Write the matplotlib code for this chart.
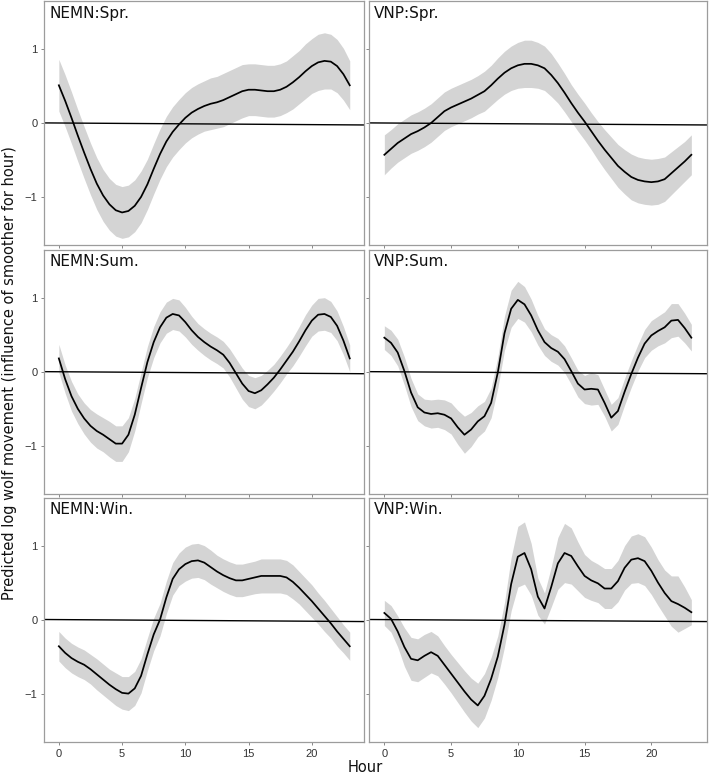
import numpy as np
import matplotlib
matplotlib.use("Agg")
import matplotlib.pyplot as plt

# ---------------- data ----------------
hours = np.arange(0, 23.5, 0.5)          # half-hour grid 0 .. 23
x_ticks = [0, 5, 10, 15, 20]
y_ticks = [-1, 0, 1]
y_tick_labels = ["\u22121", "0", "1"]

ref_intercept = 0.0                      # near-zero reference line
ref_slope = -0.0011

labels = ["NEMN:Spr.", "VNP:Spr.", "NEMN:Sum.", "VNP:Sum.", "NEMN:Win.", "VNP:Win."]

nemn_spr = [0.51, 0.30, 0.07, -0.17, -0.40, -0.62, -0.82, -0.98, -1.10, -1.18, -1.21, -1.19,
            -1.12, -1.00, -0.83, -0.62, -0.42, -0.25, -0.12, -0.02, 0.07, 0.14, 0.19, 0.23,
            0.26, 0.28, 0.31, 0.35, 0.39, 0.43, 0.45, 0.45, 0.44, 0.43, 0.43, 0.45, 0.49,
            0.55, 0.62, 0.70, 0.77, 0.82, 0.84, 0.83, 0.77, 0.66, 0.51]
nemn_spr_se = [0.35, 0.35, 0.35, 0.35, 0.35, 0.35, 0.35, 0.35, 0.35, 0.35, 0.35, 0.35,
               0.35, 0.35, 0.34, 0.34, 0.34, 0.34, 0.34, 0.34, 0.34, 0.34, 0.34, 0.34,
               0.35, 0.35, 0.36, 0.36, 0.36, 0.36, 0.35, 0.35, 0.35, 0.35, 0.35, 0.35, 0.35,
               0.36, 0.36, 0.37, 0.37, 0.38, 0.38, 0.37, 0.36, 0.35, 0.33]

vnp_spr = [-0.43, -0.35, -0.27, -0.21, -0.15, -0.11, -0.06, 0.00, 0.08, 0.16, 0.21, 0.25,
           0.29, 0.33, 0.38, 0.43, 0.51, 0.60, 0.68, 0.74, 0.78, 0.80, 0.80, 0.78,
           0.74, 0.65, 0.54, 0.41, 0.27, 0.14, 0.02, -0.11, -0.24, -0.36, -0.47, -0.58, -0.66,
           -0.73, -0.77, -0.79, -0.80, -0.79, -0.76, -0.68, -0.60, -0.52, -0.43]
vnp_spr_se = [0.27, 0.26, 0.26, 0.26, 0.26, 0.26, 0.26, 0.26, 0.26, 0.26, 0.26, 0.26,
              0.26, 0.26, 0.26, 0.27, 0.27, 0.28, 0.29, 0.30, 0.31, 0.32, 0.32, 0.31,
              0.30, 0.29, 0.27, 0.26, 0.25, 0.25, 0.25, 0.25, 0.26, 0.27, 0.28, 0.29, 0.30,
              0.31, 0.31, 0.31, 0.31, 0.31, 0.30, 0.29, 0.28, 0.27, 0.27]

nemn_sum = [0.18, -0.10, -0.33, -0.50, -0.63, -0.73, -0.80, -0.85, -0.91, -0.97, -0.97, -0.85,
            -0.58, -0.22, 0.13, 0.40, 0.60, 0.73, 0.78, 0.76, 0.67, 0.56, 0.47, 0.40,
            0.34, 0.29, 0.23, 0.12, -0.02, -0.16, -0.26, -0.29, -0.25, -0.17, -0.08, 0.03, 0.15,
            0.27, 0.41, 0.56, 0.69, 0.77, 0.78, 0.74, 0.62, 0.42, 0.18]
nemn_sum_se = [0.19, 0.19, 0.20, 0.20, 0.21, 0.22, 0.23, 0.23, 0.24, 0.24, 0.24, 0.23,
               0.22, 0.21, 0.21, 0.21, 0.21, 0.21, 0.21, 0.21, 0.20, 0.19, 0.18, 0.18,
               0.18, 0.18, 0.18, 0.19, 0.20, 0.21, 0.21, 0.21, 0.20, 0.19, 0.18, 0.18, 0.18,
               0.19, 0.20, 0.21, 0.21, 0.22, 0.22, 0.21, 0.20, 0.19, 0.18]

vnp_sum = [0.46, 0.39, 0.26, 0.01, -0.28, -0.48, -0.55, -0.57, -0.56, -0.58, -0.63, -0.75,
           -0.85, -0.78, -0.67, -0.60, -0.42, -0.01, 0.52, 0.85, 0.97, 0.91, 0.76, 0.56,
           0.40, 0.32, 0.27, 0.17, 0.01, -0.16, -0.24, -0.23, -0.24, -0.42, -0.62, -0.53, -0.27,
           -0.03, 0.19, 0.38, 0.49, 0.55, 0.60, 0.69, 0.70, 0.59, 0.46]
vnp_sum_se = [0.16, 0.17, 0.18, 0.19, 0.19, 0.18, 0.18, 0.19, 0.19, 0.20, 0.21, 0.23,
              0.25, 0.23, 0.21, 0.20, 0.20, 0.21, 0.23, 0.25, 0.25, 0.24, 0.22, 0.20,
              0.18, 0.18, 0.18, 0.18, 0.18, 0.18, 0.19, 0.22, 0.20, 0.18, 0.18, 0.18, 0.18,
              0.18, 0.18, 0.19, 0.20, 0.20, 0.21, 0.23, 0.22, 0.20, 0.18]

nemn_win = [-0.36, -0.45, -0.52, -0.57, -0.61, -0.67, -0.74, -0.81, -0.88, -0.94, -0.99, -1.00,
            -0.93, -0.76, -0.47, -0.20, 0.00, 0.30, 0.55, 0.68, 0.75, 0.79, 0.80, 0.77,
            0.71, 0.65, 0.60, 0.56, 0.53, 0.53, 0.55, 0.57, 0.59, 0.59, 0.59, 0.59, 0.57,
            0.51, 0.43, 0.34, 0.25, 0.15, 0.05, -0.05, -0.16, -0.26, -0.36]
nemn_win_se = [0.20, 0.20, 0.20, 0.20, 0.20, 0.20, 0.21, 0.21, 0.21, 0.22, 0.22, 0.23,
               0.23, 0.23, 0.22, 0.22, 0.22, 0.22, 0.22, 0.22, 0.23, 0.23, 0.23, 0.23,
               0.23, 0.22, 0.22, 0.22, 0.22, 0.22, 0.22, 0.22, 0.23, 0.23, 0.23, 0.23, 0.23,
               0.23, 0.22, 0.22, 0.22, 0.21, 0.21, 0.20, 0.20, 0.19, 0.19]

vnp_win = [0.09, 0.01, -0.16, -0.37, -0.53, -0.55, -0.49, -0.44, -0.49, -0.61, -0.73, -0.85,
           -0.97, -1.08, -1.16, -1.03, -0.80, -0.50, -0.07, 0.48, 0.85, 0.90, 0.68, 0.31,
           0.15, 0.44, 0.76, 0.90, 0.86, 0.72, 0.59, 0.53, 0.49, 0.42, 0.42, 0.52, 0.70,
           0.81, 0.83, 0.79, 0.66, 0.50, 0.36, 0.25, 0.21, 0.16, 0.10]
vnp_win_se = [0.17, 0.18, 0.21, 0.26, 0.29, 0.29, 0.29, 0.28, 0.27, 0.26, 0.26, 0.27,
              0.28, 0.29, 0.30, 0.30, 0.29, 0.28, 0.30, 0.36, 0.41, 0.42, 0.35, 0.25,
              0.21, 0.27, 0.35, 0.40, 0.38, 0.33, 0.29, 0.27, 0.26, 0.27, 0.27, 0.28, 0.30,
              0.32, 0.33, 0.33, 0.32, 0.31, 0.31, 0.34, 0.38, 0.28, 0.17]

series = [(nemn_spr, nemn_spr_se), (vnp_spr, vnp_spr_se),
          (nemn_sum, nemn_sum_se), (vnp_sum, vnp_sum_se),
          (nemn_win, nemn_win_se), (vnp_win, vnp_win_se)]

# ---------------- layout ----------------
W, H = 709, 774
fig = plt.figure(figsize=(W / 100, H / 100), dpi=100)

col_px = [(44.3, 364.3), (369.0, 706.7)]
row_px = [(1.0, 245.0), (249.5, 494.0), (497.5, 741.7)]

band_color = "#d4d4d4"
frame_color = "#9c9c9c"
tick_font = ["Liberation Sans", "DejaVu Sans"]
text_font = ["DejaVu Sans"]

for i, (label, (mean, se)) in enumerate(zip(labels, series)):
    r, c = divmod(i, 2)
    x0, x1 = col_px[c]
    yt, yb = row_px[r]
    ax = fig.add_axes([x0 / W, 1 - yb / H, (x1 - x0) / W, (yb - yt) / H])
    m = np.asarray(mean)
    s = np.asarray(se)
    ax.fill_between(hours, m - s, m + s, color=band_color, lw=0, zorder=1)
    ax.plot(hours, m, color="black", lw=1.25, zorder=3, solid_joinstyle="round")
    ax.axline((0, ref_intercept), slope=ref_slope, color="black", lw=1.0, zorder=2)
    ax.set_xlim(-1.15, 24.15)
    ax.set_ylim(-1.65, 1.65)
    ax.set_xticks(x_ticks)
    ax.set_yticks(y_ticks)
    ax.set_yticklabels(y_tick_labels)
    ax.tick_params(axis="both", direction="out", length=2.5, width=0.7,
                   color="#888888", labelsize=8, labelcolor="#333333", pad=2.5)
    if c == 1:
        ax.tick_params(axis="y", labelleft=False)
    if r != 2:
        ax.tick_params(axis="x", labelbottom=False)
    for lab in ax.get_xticklabels() + ax.get_yticklabels():
        lab.set_family(tick_font)
    for sp in ax.spines.values():
        sp.set_color(frame_color)
        sp.set_linewidth(0.9)
    ax.text(5 / (x1 - x0), 1 - 5 / (yb - yt), label, transform=ax.transAxes,
            ha="left", va="top", fontsize=11, family=text_font, color="#111111")

fig.text(365 / W, 1 - 767 / H, "Hour", ha="center", va="center",
         fontsize=10.5, family=text_font, color="#111111")
fig.text(10 / W, 1 - 373 / H,
         "Predicted log wolf movement (influence of smoother for hour)",
         rotation=90, ha="center", va="center", fontsize=10.5,
         family=text_font, color="#111111")

fig.savefig("out.png", dpi=100)
